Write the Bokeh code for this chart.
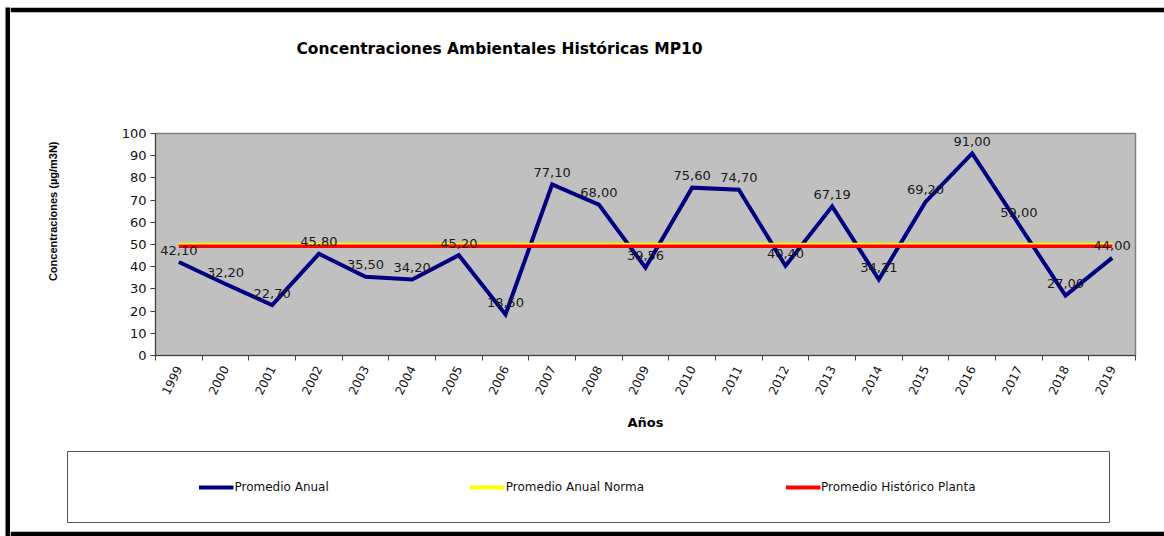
import math
from bokeh.plotting import figure
from bokeh.models import (ColumnDataSource, LabelSet, Legend, LegendItem, FixedTicker,
                          Range1d, Spacer)
from bokeh.layouts import column, row
from bokeh.core.properties import value
from bokeh.embed import file_html
from bokeh.resources import INLINE

# Annual average MP10 concentrations (µg/m3N)
years = [1999, 2000, 2001, 2002, 2003, 2004, 2005, 2006, 2007, 2008, 2009,
         2010, 2011, 2012, 2013, 2014, 2015, 2016, 2017, 2018, 2019]
promedio_anual = [42.10, 32.20, 22.70, 45.80, 35.50, 34.20, 45.20, 18.50, 77.10, 68.00,
                  39.56, 75.60, 74.70, 40.40, 67.19, 34.21, 69.20, 91.00, 59.00, 27.00, 44.00]
promedio_norma = 50.0
promedio_planta = 49.2

y_ticks = [0, 10, 20, 30, 40, 50, 60, 70, 80, 90, 100]

TITLE = "Concentraciones Ambientales Históricas MP10"
Y_TITLE = "Concentraciones (µg/m3N)"
X_TITLE = "Años"
SERIES_NAMES = ["Promedio Anual", "Promedio Anual Norma", "Promedio Histórico Planta"]

SANS = "DejaVu Sans"
NARROW = "Liberation Sans"
NAVY, YELLOW, RED = "#000080", "#FFFF00", "#FF0000"
AXIS_GREY = "#404040"

labels_txt = [("%.2f" % v).replace(".", ",") for v in promedio_anual]
src = ColumnDataSource(dict(x=years, y=promedio_anual, lbl=labels_txt))


def blank(w, h, xr, yr, **kw):
    """Figure without axes whose frame is used as a drawing surface."""
    opts = dict(min_border=0, border_fill_color="white", background_fill_color="white",
                outline_line_color=None)
    opts.update(kw)
    f = figure(width=w, height=h, output_backend="svg", toolbar_location=None,
               x_axis_location=None, y_axis_location=None,
               x_range=Range1d(*xr), y_range=Range1d(*yr), **opts)
    f.grid.visible = False
    return f


CW = 1154  # width of the framed area

# ---- header with the chart title (top black rule in its border) ----
hdr = blank(CW, 85, (0, CW), (80, 0), border_fill_color="black", min_border_top=5)
hdr.text(x=[489], y=[36], text=[TITLE], text_align="center", text_baseline="middle",
         text_font=value(SANS), text_font_size=value("15.5px"), text_font_style="bold",
         text_color="black")

# ---- vertical axis title strip ----
ylab = blank(100, 351, (0, 100), (351, 0))
ylab.text(x=[42], y=[123], text=[Y_TITLE], angle=math.pi / 2,
          text_align="center", text_baseline="middle",
          text_font=value(NARROW), text_font_size=value("11px"), text_font_style="bold",
          text_color="black")

# ---- main chart ----
p = figure(width=1054, height=351, output_backend="svg", toolbar_location=None,
           x_range=Range1d(years[0] - 0.5, years[-1] + 0.5),
           y_range=Range1d(y_ticks[0], y_ticks[-1]),
           min_border_left=45, min_border_right=29,
           min_border_top=41, min_border_bottom=88)
p.background_fill_color = "#C0C0C0"
p.border_fill_color = "white"
p.outline_line_color = "#808080"
p.outline_line_width = 1.5
p.grid.visible = False

p.yaxis.ticker = FixedTicker(ticks=y_ticks)
p.yaxis.major_tick_out = 5
p.yaxis.major_tick_in = 0
p.yaxis.minor_tick_line_color = None
p.yaxis.axis_line_color = AXIS_GREY
p.yaxis.major_tick_line_color = AXIS_GREY
p.yaxis.major_label_text_font = SANS
p.yaxis.major_label_text_font_size = "13px"
p.yaxis.major_label_text_color = "#111111"
p.yaxis.major_label_standoff = 4

p.xaxis.ticker = FixedTicker(ticks=years,
                             minor_ticks=[y - 0.5 for y in years] + [years[-1] + 0.5])
p.xaxis.major_label_overrides = {y: str(y) for y in years}
p.xaxis.major_tick_out = 0
p.xaxis.major_tick_in = 0
p.xaxis.minor_tick_out = 5
p.xaxis.minor_tick_in = 0
p.xaxis.minor_tick_line_color = AXIS_GREY
p.xaxis.axis_line_color = AXIS_GREY
p.xaxis.major_label_orientation = 1.1
p.xaxis.major_label_text_font = SANS
p.xaxis.major_label_text_font_size = "12px"
p.xaxis.major_label_text_color = "#111111"
p.xaxis.major_label_standoff = 6
p.xaxis.axis_label = X_TITLE
p.xaxis.axis_label_text_font = SANS
p.xaxis.axis_label_text_font_size = "13px"
p.xaxis.axis_label_text_font_style = "bold"
p.xaxis.axis_label_text_color = "black"
p.xaxis.axis_label_standoff = 14

p.line("x", "y", source=src, line_color=NAVY, line_width=4, line_join="miter")
p.line([years[0], years[-1]], [promedio_norma, promedio_norma],
       line_color=YELLOW, line_width=3.5)
p.line([years[0], years[-1]], [promedio_planta, promedio_planta],
       line_color=RED, line_width=3.5)

p.add_layout(LabelSet(x="x", y="y", text="lbl", source=src, y_offset=12,
                      text_align="center", text_baseline="middle",
                      text_font=value(SANS), text_font_size=value("13px"),
                      text_color="#1a1a1a"))

# ---- legend strip (bottom black rule in its border) ----
lg = blank(CW, 93, (0, CW), (88, 0), border_fill_color="black", min_border_bottom=5)
lg.quad(left=[57], right=[1099], top=[8], bottom=[79], fill_color=None,
        line_color="#555555", line_width=1)
# off-range proxies that carry the legend line styles
g_anual = lg.line(x=[-20, -10], y=[-20, -10], line_color=NAVY, line_width=4)
g_norma = lg.line(x=[-20, -10], y=[-20, -10], line_color=YELLOW, line_width=4)
g_planta = lg.line(x=[-20, -10], y=[-20, -10], line_color=RED, line_width=4)
legend = Legend(items=[LegendItem(label=SERIES_NAMES[0], renderers=[g_anual]),
                       LegendItem(label=SERIES_NAMES[1], renderers=[g_norma]),
                       LegendItem(label=SERIES_NAMES[2], renderers=[g_planta])],
                orientation="horizontal", location="center",
                padding=0, margin=0, spacing=141, glyph_width=35, glyph_height=14,
                label_height=14, label_standoff=1, label_text_font=SANS,
                label_text_font_size="12px", label_text_color="#111111",
                border_line_alpha=0, background_fill_alpha=0)
lg.add_layout(legend, "center")

# ---- page assembly with the left black rule ----
left_rule = blank(5, 529, (0, 1), (0, 1), border_fill_color="black",
                  background_fill_color="black")
content = column(hdr, row(ylab, p), lg)
page = column(Spacer(width=1164, height=7),
              row(Spacer(width=5, height=529), left_rule, content))

open("out.html", "w").write(file_html(page, INLINE))
